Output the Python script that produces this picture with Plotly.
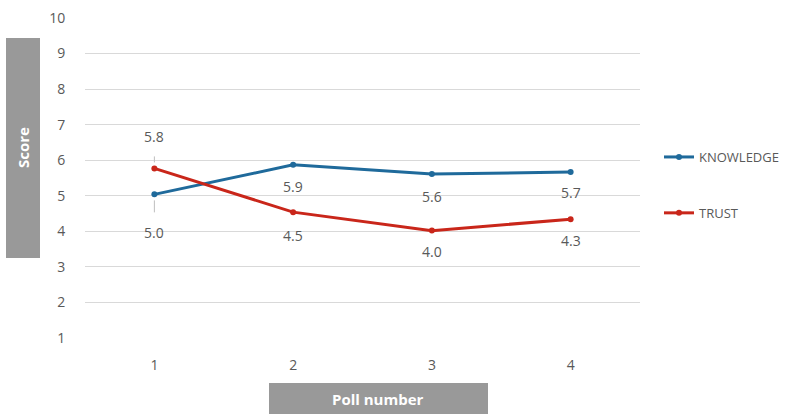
import plotly.graph_objects as go

polls = ["1", "2", "3", "4"]
knowledge = [5.04, 5.87, 5.61, 5.67]
trust = [5.77, 4.54, 4.02, 4.34]
series_names = ["KNOWLEDGE", "TRUST"]
y_ticks = list(range(1, 11))

# label offsets in pixels (positive = below)
k_offsets = [38, 22, 22, 21]
t_offsets = [-32, 23, 21, 21]

BLUE = "#1f6a9b"
RED = "#c9261a"
GREY_TXT = "#595959"
FONT = "Open Sans, Noto Sans, sans-serif"

W, H = 788, 414
L, R, T, B = 85, 148, 18, 76
pw, ph = W - L - R, H - T - B

def px_x(p):
    return (p - L) / pw

def px_y(p):
    return (H - B - p) / ph

fig = go.Figure()
for name, vals, col, grp in [(series_names[0], knowledge, BLUE, "a"), (series_names[1], trust, RED, "b")]:
    fig.add_trace(go.Scatter(
        x=polls, y=vals, name=name, mode="lines+markers",
        line=dict(color=col, width=3), marker=dict(color=col, size=6),
        legendgroup=grp,
    ))

annotations = []
for vals, offs in [(knowledge, k_offsets), (trust, t_offsets)]:
    for i, v in enumerate(vals):
        leader = abs(offs[i]) > 30
        annotations.append(dict(
            x=i, y=v, xref="x", yref="y", text=f"{v:.1f}",
            showarrow=leader, arrowhead=0, arrowwidth=1, arrowcolor="#bfbfbf",
            ax=0, ay=offs[i], standoff=6, startstandoff=9,
            yshift=0 if leader else -offs[i],
            font=dict(family=FONT, size=14, color=GREY_TXT),
        ))

# Axis title boxes
shapes = [
    dict(type="rect", xref="paper", yref="paper",
         x0=px_x(6), x1=px_x(40), y0=px_y(258), y1=px_y(38),
         fillcolor="#999999", line=dict(width=0), layer="below"),
    dict(type="rect", xref="paper", yref="paper",
         x0=px_x(269), x1=px_x(488), y0=px_y(414), y1=px_y(383),
         fillcolor="#999999", line=dict(width=0), layer="below"),
]
annotations.append(dict(
    x=px_x(23), y=px_y(148), xref="paper", yref="paper", text="<b>Score</b>",
    showarrow=False, textangle=-90, xanchor="center", yanchor="middle",
    font=dict(family=FONT, size=15, color="white"),
))
annotations.append(dict(
    x=px_x(378), y=px_y(399), xref="paper", yref="paper", text="<b>Poll number</b>",
    showarrow=False, xanchor="center", yanchor="middle",
    font=dict(family=FONT, size=15, color="white"),
))

fig.update_layout(
    width=W, height=H,
    margin=dict(l=L, r=R, t=T, b=B, autoexpand=False),
    paper_bgcolor="white", plot_bgcolor="white",
    font=dict(family=FONT, size=13, color=GREY_TXT),
    xaxis=dict(type="category", range=[-0.5, 3.5], showgrid=False, zeroline=False,
               showline=False, ticks="outside", ticklen=14, tickcolor="rgba(0,0,0,0)",
               tickfont=dict(size=14, color=GREY_TXT)),
    yaxis=dict(range=[1, 10], tickvals=y_ticks, showgrid=True, gridcolor="#d9d9d9",
               gridwidth=1, zeroline=False, showline=False, ticks="outside",
               ticklen=16, tickcolor="rgba(0,0,0,0)",
               tickfont=dict(size=14, color=GREY_TXT)),
    legend=dict(x=px_x(659), y=px_y(142), xanchor="left", yanchor="top",
                tracegroupgap=36, font=dict(family=FONT, size=13, color=GREY_TXT),
                itemwidth=30, bgcolor="rgba(0,0,0,0)"),
    shapes=shapes, annotations=annotations,
)

fig.write_html("out.html")
